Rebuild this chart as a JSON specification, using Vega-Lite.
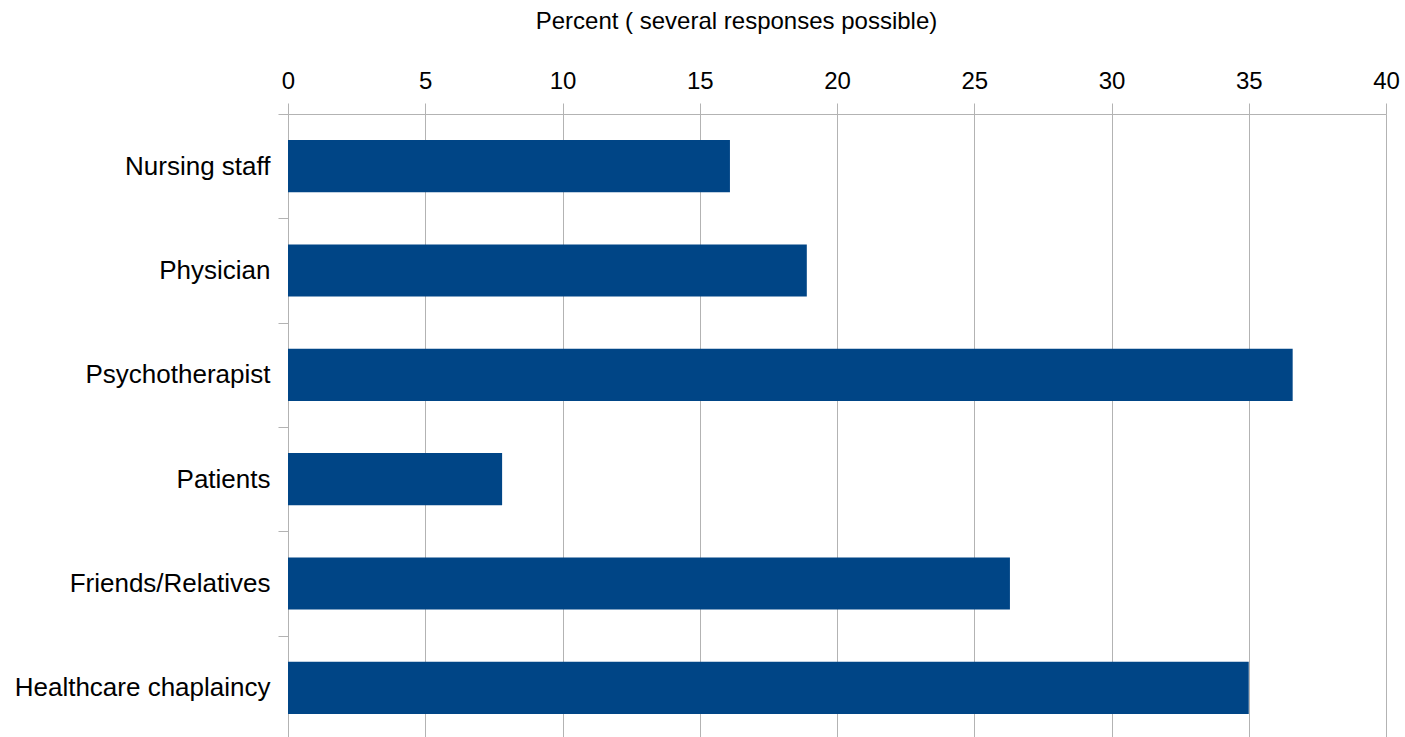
{
  "$schema": "https://vega.github.io/schema/vega-lite/v6.json",
  "autosize": {"type": "none"},
  "width": 1098,
  "height": 626,
  "padding": {"left": 288, "top": 114, "right": 19, "bottom": 0},
  "background": "white",
  "config": {
    "view": {"stroke": null},
    "font": "Liberation Sans"
  },
  "data": {
    "values": [
      {"source": "Nursing staff", "percent": 16.1},
      {"source": "Physician", "percent": 18.9},
      {"source": "Psychotherapist", "percent": 36.6},
      {"source": "Patients", "percent": 7.8},
      {"source": "Friends/Relatives", "percent": 26.3},
      {"source": "Healthcare chaplaincy", "percent": 35.0}
    ]
  },
  "mark": {"type": "bar", "color": "#004586", "height": {"band": 0.5}},
  "encoding": {
    "y": {
      "field": "source",
      "type": "nominal",
      "sort": null,
      "scale": {"paddingInner": 0, "paddingOuter": 0},
      "axis": {
        "title": null,
        "grid": false,
        "tickBand": "extent",
        "tickSize": 10,
        "tickColor": "#b3b3b3",
        "domainColor": "#b3b3b3",
        "labelFont": "Liberation Sans",
        "labelFontSize": 26,
        "labelColor": "#000000",
        "labelPadding": 8,
        "labelLimit": 400
      }
    },
    "x": {
      "field": "percent",
      "type": "quantitative",
      "scale": {"domain": [0, 40], "nice": false},
      "axis": {
        "orient": "top",
        "values": [0, 5, 10, 15, 20, 25, 30, 35, 40],
        "title": "Percent ( several responses possible)",
        "titleFont": "Liberation Sans",
        "titleFontSize": 24,
        "titleFontWeight": "normal",
        "titleColor": "#000000",
        "titleX": 448,
        "titleY": -93,
        "titleBaseline": "middle",
        "titleAlign": "center",
        "grid": true,
        "gridColor": "#b3b3b3",
        "tickColor": "#b3b3b3",
        "domainColor": "#b3b3b3",
        "tickSize": 11,
        "labelFont": "Liberation Sans",
        "labelFontSize": 24,
        "labelColor": "#000000",
        "labelPadding": 10,
        "labelFlush": false
      }
    }
  }
}
